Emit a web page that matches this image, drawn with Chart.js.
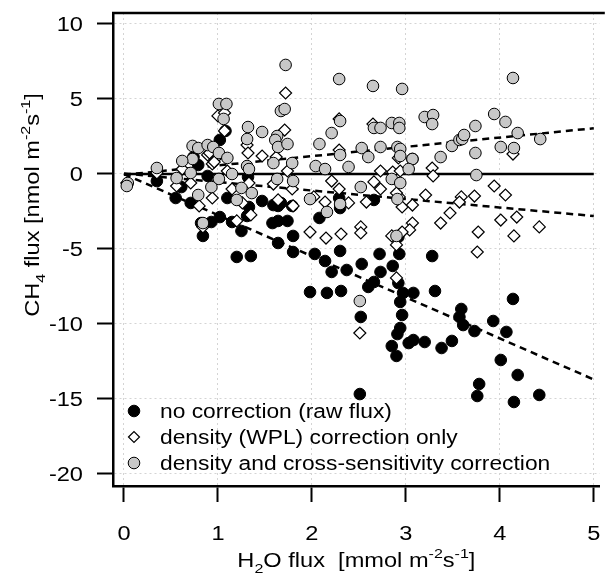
<!DOCTYPE html>
<html>
<head>
<meta charset="utf-8">
<title>CH4 flux vs H2O flux</title>
<script src="https://cdn.jsdelivr.net/npm/chart.js@4.4.1/dist/chart.umd.min.js"></script>
<style>
  body { margin: 0; background: #fff; }
  canvas { display: block; }
</style>
</head>
<body>
<canvas id="fluxChart" width="607" height="573"></canvas>
<script>
// values: [H2O flux, CH4 flux]
var xTicks = [0, 1, 2, 3, 4, 5];
var yTicks = [10, 5, 0, -5, -10, -15, -20];
var seriesNames = ['no correction (raw flux)', 'density (WPL) correction only', 'density and cross-sensitivity correction'];

var rawFlux = [
  [0.35,-0.47],[0.55,-1.6],[0.71,-1.93],[0.61,-0.87],[0.79,0.6],[0.74,1.13],[0.89,-0.13],[1.02,2.27],[1.08,2.87],[1.10,-1.6],
  [0.84,-4.13],[0.82,-3.27],[0.93,-3.2],[1.02,-2.87],[1.15,-3.2],[1.25,-3.8],[1.33,-2.2],[1.47,-1.8],[1.32,-0.2],[1.31,-2.8],
  [1.59,-2.07],[1.64,-2.13],[1.67,-1.93],[1.79,-2.13],[1.58,-3.27],[1.64,-3.13],[1.74,-3.13],[1.80,-4.13],[1.64,-4.6],[1.80,-5.2],
  [1.20,-5.53],[1.35,-5.47],[2.03,-5.33],[2.14,-5.8],[2.21,-6.53],[2.30,-5.13],[2.37,-6.4],[1.98,-7.87],[2.16,-7.93],[2.31,-7.8],
  [2.08,-2.93],[2.29,-1.6],[2.30,-2.27],[2.66,-1.73],[2.92,-4.2],[3.07,1.0],[2.53,-6.0],[2.72,-5.33],[2.93,-5.33],[2.86,-6.13],
  [2.73,-6.53],[2.66,-7.2],[2.60,-7.53],[2.92,-7.27],[2.97,-7.93],[2.94,-8.53],[3.08,-7.93],[3.28,-5.47],[3.31,-7.8],[2.52,-9.53],
  [2.96,-9.4],[2.94,-10.27],[2.91,-10.67],[2.85,-11.47],[2.90,-12.13],[3.03,-11.27],[3.08,-11.07],[3.20,-11.2],[3.38,-11.6],[3.49,-11.13],
  [3.59,-9.0],[3.57,-9.53],[3.61,-10.07],[3.73,-10.47],[3.93,-9.8],[4.07,-10.53],[4.14,-8.33],[4.01,-12.4],[4.19,-13.4],[3.78,-14.0],
  [3.76,-14.8],[4.15,-15.2],[4.42,-14.73],[2.51,-14.67]
];

var wplFlux = [
  [0.03,-0.6],[0.35,0.07],[1.0,3.87],[1.07,4.07],[1.07,2.87],[0.62,0.33],[0.71,-0.6],[0.56,-0.8],[0.80,-2.13],[0.94,-1.6],
  [0.89,1.27],[1.0,1.2],[0.94,0.67],[1.10,0.2],[1.15,-1.0],[1.26,-1.93],[1.35,-2.73],[1.20,-3.13],[1.47,1.2],[1.33,-0.6],
  [0.84,-3.53],[0.91,1.4],[0.96,0.8],[1.72,5.4],[1.71,2.93],[1.31,1.93],[1.32,1.4],[1.59,-0.67],[1.79,-1.0],[1.64,-1.73],
  [1.80,-2.13],[1.98,-3.87],[2.15,-4.27],[2.31,-4.0],[2.21,-0.47],[2.29,-1.0],[2.39,-1.93],[2.29,3.67],[1.62,1.13],[1.74,0.2],
  [2.02,-1.53],[2.14,-1.87],[2.29,1.6],[2.65,3.33],[2.73,0.2],[2.66,-0.53],[2.73,-1.0],[2.58,-1.87],[2.86,0.13],[2.94,0.2],
  [2.93,-1.53],[2.96,-2.2],[3.07,-2.07],[3.21,-1.4],[3.07,-3.27],[3.04,-3.73],[2.96,-3.87],[2.90,-4.73],[2.52,-3.53],[2.52,-3.93],
  [2.92,1.07],[2.90,-1.27],[3.28,0.4],[3.29,-0.13],[2.85,-4.13],[3.47,-2.6],[3.37,-3.27],[3.59,-1.53],[3.57,-1.87],[3.73,-1.47],
  [3.94,-0.8],[4.06,-1.4],[4.01,-3.07],[4.18,-2.87],[3.77,-3.87],[4.15,-4.13],[4.42,-3.53],[3.76,-5.2],[4.14,1.33],[2.90,-6.93],
  [2.51,-10.6]
];

var corrFlux = [
  [1.01,4.67],[1.09,4.67],[1.06,3.67],[1.32,3.13],[1.47,2.8],[1.31,2.33],[0.73,1.87],[0.79,1.73],[0.89,1.93],[0.95,1.8],
  [0.73,1.0],[0.62,0.87],[1.01,1.4],[1.10,1.07],[1.31,0.53],[1.33,0.33],[0.35,0.4],[0.04,-0.6],[0.03,-0.8],[0.56,-0.27],
  [0.71,0.07],[1.01,-0.33],[1.15,0.0],[0.93,-0.87],[0.79,-1.4],[1.25,-0.93],[1.36,-1.27],[1.20,-1.73],[0.84,-3.27],[1.67,4.2],
  [1.71,4.33],[1.63,2.53],[1.61,2.27],[1.64,1.8],[1.74,2.0],[1.59,0.73],[1.79,0.73],[1.63,-0.33],[1.80,-0.47],[2.08,2.0],
  [2.21,2.73],[2.30,3.53],[2.04,0.53],[2.14,0.33],[2.39,0.47],[2.30,1.27],[1.98,-1.67],[2.16,-2.53],[2.30,-2.0],[1.72,7.27],
  [2.29,6.33],[2.65,5.87],[2.96,5.67],[2.66,3.07],[2.73,3.07],[2.85,3.4],[2.93,3.4],[2.93,3.07],[3.20,3.8],[2.53,1.73],
  [2.73,1.8],[2.60,1.13],[2.91,1.8],[2.94,1.67],[2.94,1.2],[3.07,1.0],[3.03,0.33],[2.85,-0.33],[2.94,-0.6],[2.52,-0.87],
  [2.91,-1.67],[2.90,-4.13],[3.29,3.93],[3.28,3.33],[3.74,3.2],[3.37,1.13],[3.49,1.87],[3.57,2.27],[3.60,2.33],[3.62,2.6],
  [3.74,1.4],[3.75,-0.07],[3.94,4.0],[4.06,3.47],[4.14,6.4],[4.19,2.73],[4.01,1.8],[4.15,1.73],[4.43,2.33],[2.51,-8.47]
];

// zero line and fitted lines, value at x = 0 and x = 5
var fitX = [0, 5];
var zeroLine = [0, 0];
var rawFit = [0, -13.7];
var wplFit = [0.03, -2.8];
var corrFit = [-0.05, 3.05];

var FONT = "'Liberation Sans', Arial, sans-serif";
var FS = 20, WIDEN = 1.18;
var xTitle = [{t:'H'},{t:'2',sc:0.68,dy:0.3},{t:'O flux  [mmol m'},{t:'-2',sc:0.68,dy:-0.45},{t:'s'},{t:'-1',sc:0.68,dy:-0.45},{t:']'}];
var yTitle = [{t:'CH'},{t:'4',sc:0.68,dy:0.3},{t:' flux [nmol m'},{t:'-2',sc:0.68,dy:-0.45},{t:'s'},{t:'-1',sc:0.68,dy:-0.45},{t:']'}];

function pts(arr) { return arr.map(function(p){ return {x: p[0], y: p[1]}; }); }
function line(ys) { return fitX.map(function(x, i){ return {x: x, y: ys[i]}; }); }

function richWidth(ctx, segs, size) {
  var w = 0;
  segs.forEach(function(s){ ctx.font = (size * (s.sc || 1)) + 'px ' + FONT; w += ctx.measureText(s.t).width; });
  return w;
}
function drawRich(ctx, segs, size, x0) {
  var x = x0;
  segs.forEach(function(s){
    ctx.font = (size * (s.sc || 1)) + 'px ' + FONT;
    ctx.fillText(s.t, x, (s.dy || 0) * size);
    x += ctx.measureText(s.t).width;
  });
}
function stretchText(ctx, txt, x, y, align, size, k) {
  ctx.save();
  ctx.translate(x, y);
  ctx.scale(k, 1);
  ctx.font = size + 'px ' + FONT;
  ctx.textAlign = align;
  ctx.textBaseline = 'alphabetic';
  ctx.fillText(txt, 0, 0);
  ctx.restore();
}

var figureText = {
  id: 'figureText',
  afterDraw: function(chart) {
    var ctx = chart.ctx, area = chart.chartArea, sx = chart.scales.x, sy = chart.scales.y;
    ctx.save();
    // top of the frame
    ctx.strokeStyle = '#000';
    ctx.lineWidth = 2.5;
    ctx.beginPath();
    ctx.moveTo(area.left - 1, area.top);
    ctx.lineTo(area.right + 5, area.top);
    ctx.stroke();

    ctx.fillStyle = '#000';
    sx.ticks.forEach(function(t){ stretchText(ctx, String(t.value), sx.getPixelForValue(t.value), 540, 'center', FS, WIDEN); });
    sy.ticks.forEach(function(t){ stretchText(ctx, String(t.value), 83, sy.getPixelForValue(t.value) + 7, 'right', FS, WIDEN); });

    // axis titles
    ctx.textAlign = 'left';
    ctx.textBaseline = 'alphabetic';
    ctx.save();
    ctx.translate((area.left + area.right) / 2, 567);
    ctx.scale(WIDEN, 1);
    drawRich(ctx, xTitle, FS, -richWidth(ctx, xTitle, FS) / 2);
    ctx.restore();

    ctx.save();
    ctx.translate(39, 205);
    ctx.rotate(-Math.PI / 2);
    ctx.scale(WIDEN, 1);
    drawRich(ctx, yTitle, FS, -richWidth(ctx, yTitle, FS) / 2);
    ctx.restore();

    // legend, bottom left inside the plot
    var rows = [411, 437, 463];
    for (var i = 0; i < 3; i++) {
      var ds = chart.data.datasets[i];
      var mx = area.left + 21, my = rows[i];
      ctx.fillStyle = ds.backgroundColor;
      ctx.strokeStyle = ds.borderColor;
      ctx.lineWidth = ds.borderWidth;
      ctx.beginPath();
      if (ds.pointStyle === 'rectRot') {
        ctx.moveTo(mx - 5.5, my); ctx.lineTo(mx, my - 5.5); ctx.lineTo(mx + 5.5, my); ctx.lineTo(mx, my + 5.5); ctx.closePath();
      } else {
        ctx.arc(mx, my, 5.8, 0, Math.PI * 2);
      }
      ctx.fill();
      ctx.stroke();
      ctx.fillStyle = '#000';
      stretchText(ctx, ds.label, 160, my + 7, 'left', FS, 1.14);
    }
    ctx.restore();
  }
};

var ctx = document.getElementById('fluxChart').getContext('2d');
var chart = new Chart(ctx, {
  type: 'scatter',
  data: {
    datasets: [
      {label: seriesNames[0], data: pts(rawFlux), pointStyle: 'circle', pointRadius: 5.8,
       backgroundColor: '#000', borderColor: '#000', borderWidth: 1, order: 3},
      {label: seriesNames[1], data: pts(wplFlux), pointStyle: 'rectRot', pointRadius: 6,
       backgroundColor: '#fff', borderColor: '#000', borderWidth: 1.2, order: 2},
      {label: seriesNames[2], data: pts(corrFlux), pointStyle: 'circle', pointRadius: 5.8,
       backgroundColor: '#c8c8c8', borderColor: '#000', borderWidth: 1, order: 1},
      {label: 'zero', data: line(zeroLine), showLine: true, borderColor: '#000', borderWidth: 2.5, pointRadius: 0, order: 4},
      {label: 'raw fit', data: line(rawFit), showLine: true, borderColor: '#000', borderWidth: 2.5, borderDash: [7, 5], pointRadius: 0, order: 5},
      {label: 'wpl fit', data: line(wplFit), showLine: true, borderColor: '#000', borderWidth: 2.5, borderDash: [7, 5], pointRadius: 0, order: 5},
      {label: 'corr fit', data: line(corrFit), showLine: true, borderColor: '#000', borderWidth: 2.5, borderDash: [7, 5], pointRadius: 0, order: 5}
    ]
  },
  options: {
    responsive: false,
    animation: false,
    devicePixelRatio: 1,
    layout: {padding: {top: 13, right: 5, left: 0, bottom: 0}},
    plugins: {legend: {display: false}, tooltip: {enabled: false}},
    scales: {
      x: {
        type: 'linear', min: -0.117, max: 5.064,
        afterBuildTicks: function(s){ s.ticks = xTicks.map(function(v){ return {value: v}; }); },
        afterFit: function(s){ s.height = 87; },
        ticks: {display: false},
        grid: {color: '#d4d4d4', lineWidth: 1, tickColor: '#000', tickLength: 16, tickWidth: 2, tickBorderDash: []},
        border: {display: true, color: '#000', width: 2.5, dash: [2, 3]}
      },
      y: {
        type: 'linear', min: -20.8, max: 10.733,
        afterBuildTicks: function(s){ s.ticks = yTicks.map(function(v){ return {value: v}; }); },
        afterFit: function(s){ s.width = 113; },
        ticks: {display: false},
        grid: {color: '#d4d4d4', lineWidth: 1, tickColor: '#000', tickLength: 16, tickWidth: 2, tickBorderDash: []},
        border: {display: true, color: '#000', width: 2.5, dash: [2, 3]}
      }
    }
  },
  plugins: [figureText]
});
</script>
</body>
</html>
